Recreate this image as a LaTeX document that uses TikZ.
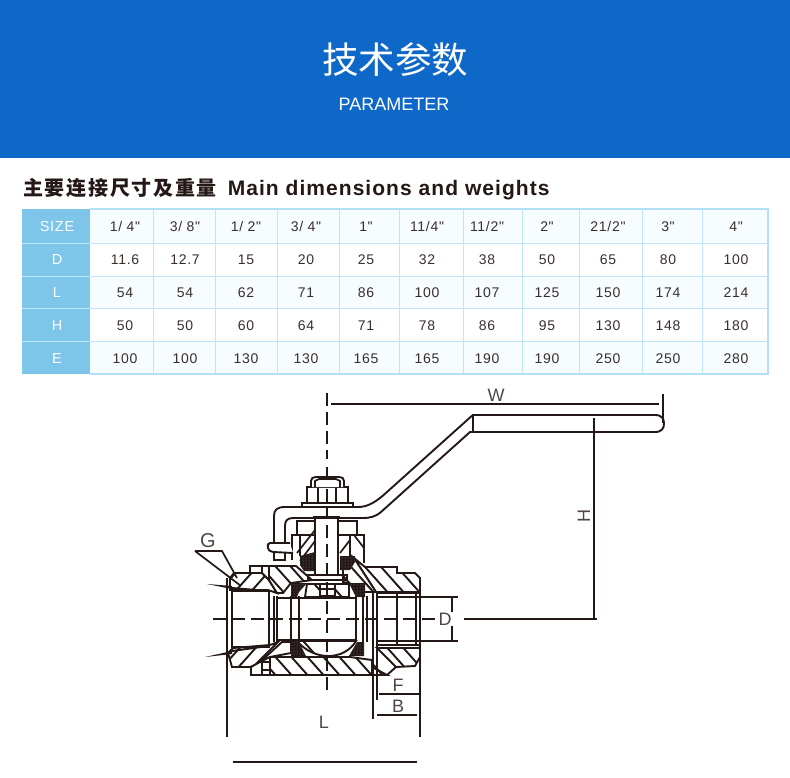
\documentclass[tikz,border=0pt]{standalone}
\usepackage{fontspec}
\usetikzlibrary{patterns}
\setmainfont{Liberation Sans}
\newfontfamily\cjk{Noto Sans CJK SC}
\newfontfamily\headcjk[LetterSpace=8.5]{Noto Sans CJK SC}
\newfontfamily\headlat[LetterSpace=5]{Liberation Sans}
\newfontfamily\cellfont[LetterSpace=5]{Liberation Sans}
\definecolor{bandblue}{RGB}{14,104,200}
\definecolor{gridblue}{RGB}{190,230,250}
\definecolor{sideblue}{RGB}{125,198,234}
\definecolor{rowtint}{RGB}{247,252,255}
\definecolor{inkdark}{RGB}{35,24,21}
\tikzset{
  cell/.style={font=\cellfont\fontsize{14}{15}\selectfont,text=inkdark!90,inner sep=0pt,text height=10pt,text depth=0pt},
  sidecell/.style={font=\cellfont\fontsize{14.5}{15}\selectfont,text=white,inner sep=0pt,text height=10.4pt,text depth=0pt},
  gridline/.style={draw=gridblue,line width=1pt},
  valveline/.style={draw=inkdark,line width=1.9pt,line join=miter},
  thinline/.style={draw=inkdark,line width=1.7pt},
  hatchline/.style={draw=inkdark,line width=1.9pt},
  axisline/.style={draw=inkdark,line width=1.7pt,dash pattern=on 13pt off 6pt},
  dimlabel/.style={font=\fontsize{18}{19}\selectfont,text=inkdark!80,inner sep=0pt}
}
% hatched region: outline, offsets at y=540, run of a stroke over 140 down
\newcommand{\hatchpoly}[3]{%
  \fill[white] #1;
  \begin{scope}
    \clip #1;
    \foreach \hx in {#2} \draw[hatchline] (\hx,540) -- ++(#3,140);
  \end{scope}
  \draw[valveline] #1;
}
% packing seat, dark with light specks
\newcommand{\seatpoly}[1]{%
  \fill[inkdark] #1;
  \fill[pattern=dots,pattern color=white!45!inkdark] #1;
}
\begin{document}
\begin{tikzpicture}[x=1pt,y=-1pt]
  \useasboundingbox (0,0) rectangle (790,777);

  % Title band
  \fill[bandblue] (0,0) rectangle (790,158);
  \node[text=white,inner sep=0pt,font=\cjk\fontsize{36.5}{38}\selectfont] (title) at (395,60) {技术参数};
  \node[text=white,inner sep=0pt,font=\fontsize{18}{19}\selectfont] (subtitle) at (394,104) {PARAMETER};

  % Heading of the table
  \node[anchor=west,inner sep=0pt,text=inkdark] (heading) at (23,189)
    {\headcjk\bfseries\fontsize{20}{22}\selectfont 主要连接尺寸及重量\hspace{11pt}\headlat\bfseries\fontsize{21}{22}\selectfont Main dimensions and weights};

  % Table background
  \fill[rowtint] (90,209) rectangle (768,243);
  \fill[rowtint] (90,276) rectangle (768,308);
  \fill[rowtint] (90,341) rectangle (768,374);
  \fill[sideblue] (22,209) rectangle (90,374);

  % Table lines
  \foreach \gy in {243,276,308,341} \draw[gridline] (22,\gy) -- (768,\gy);
  \foreach \gx in {153,215,277,339,399,463,522,579,642,702} \draw[gridline] (\gx,209) -- (\gx,374);
  \draw[gridline,line width=1.5pt,draw=gridblue!80!sideblue] (90,209) -- (768,209) -- (768,374) -- (90,374);

  % Table texts
  \foreach \cy/\sidetext/\rowname in {226/SIZE/size,259/D/d,292/L/l,325/H/h,358/E/e}
    \node[sidecell] (\rowname0) at (57,\cy) {\sidetext};
  \foreach \cx/\celltext [count=\ci] in {125/{1/ 4"},185/{3/ 8"},246/{1/ 2"},306/{3/ 4"},366/{1"},427/{11/4"},487/{11/2"},547/{2"},608/{21/2"},668/{3"},736/{4"}}
    \node[cell] (size\ci) at (\cx,226) {\celltext};
  \foreach \cx/\celltext [count=\ci] in {125/11.6,185/12.7,246/15,306/20,366/25,427/32,487/38,547/50,608/65,668/80,736/100}
    \node[cell] (d\ci) at (\cx,259) {\celltext};
  \foreach \cx/\celltext [count=\ci] in {125/54,185/54,246/62,306/71,366/86,427/100,487/107,547/125,608/150,668/174,736/214}
    \node[cell] (l\ci) at (\cx,292) {\celltext};
  \foreach \cx/\celltext [count=\ci] in {125/50,185/50,246/60,306/64,366/71,427/78,487/86,547/95,608/130,668/148,736/180}
    \node[cell] (h\ci) at (\cx,325) {\celltext};
  \foreach \cx/\celltext [count=\ci] in {125/100,185/100,246/130,306/130,366/165,427/165,487/190,547/190,608/250,668/250,736/280}
    \node[cell] (e\ci) at (\cx,358) {\celltext};

  % Upper hatched parts
  \hatchpoly{(230,590) -- (230,578) -- (234,573) -- (262,573) -- (269,580) -- (277,593) -- (268,590) -- cycle}{265,281,297}{-125}
  \hatchpoly{(250,573) -- (250,566) -- (262,566) -- (262,573) -- cycle}{}{125}
  \hatchpoly{(262,566) -- (269,566) -- (269,580) -- (262,573) -- cycle}{}{125}
  \hatchpoly{(269,566) -- (296,566) -- (312,580) -- (291,583) -- (283,593) -- (277,593) -- (269,580) -- cycle}{237,252,267}{125}
  \hatchpoly{(354,558) -- (365,567) -- (397,567) -- (397,573) -- (415,573) -- (420,578) -- (420,592) -- (376,592) -- cycle}{323,341,357,373,391}{125}
  \hatchpoly{(343,568) -- (354,558) -- (376,592) -- (365,592) -- (349,583) -- (343,582) -- cycle}{311,327}{125}

  % Lower hatched parts
  \hatchpoly{(228,653) -- (233,648) -- (270,645) -- (278,642) -- (255,665) -- (250,667) -- (232,667) -- cycle}{320,336,352}{-125}
  \hatchpoly{(282,642) -- (291,642) -- (291,653) -- (270,657) -- (260,662) -- cycle}{369}{-125}
  \hatchpoly{(251,667) -- (260,662) -- (262,662) -- (262,675) -- (251,675) -- cycle}{}{125}
  \hatchpoly{(270,662) -- (270,657) -- (305,657) -- (350,657) -- (372,660) -- (372,667) -- (387,675) -- (270,675) -- cycle}{155,171,187,203,219,235,251}{125}
  \hatchpoly{(377,648) -- (420,648) -- (420,657) -- (415,666) -- (396,667) -- cycle}{275,291,307}{125}
  \draw[valveline] (372,660) -- (372,675) -- (387,675) -- (396,667);
  \draw[valveline] (262,662) rectangle (270,675);
  \draw[thinline] (262,670) -- (270,670);
  \begin{scope}
    \clip (372,660) -- (372,675) -- (387,675) -- (396,667) -- (378,650) -- cycle;
    \foreach \hx in {262} \draw[hatchline] (\hx,540) -- ++(125,140);
  \end{scope}

  % Ball
  \hatchpoly{(297,641) -- (356,641) .. controls (345,660) and (315,662) .. (297,641) -- cycle}{181,197,213}{125}
  \hatchpoly{(307,584) -- (349,584) -- (349,597) -- (305,597) -- cycle}{275,291,330}{125}
  \fill[white] (320,584) rectangle (335,596);
  \draw[thinline] (320,584) rectangle (335,596);
  \draw[thinline] (320,589) -- (335,589);

  % Packing seats
  \seatpoly{(291,583) -- (307,583) -- (299,592) -- (297,597) -- (291,597) -- cycle}
  \seatpoly{(349,583) -- (365,583) -- (365,597) -- (356,597) -- cycle}
  \seatpoly{(291,640) -- (298,640) -- (306,656) -- (291,656) -- cycle}
  \seatpoly{(364,642) -- (357,642) -- (349,656) -- (364,656) -- cycle}

  % Bore and threads
  \draw[valveline] (232,591) rectangle (269,647);
  \draw[valveline] (277,598) -- (357,598);
  \draw[valveline] (277,640) -- (357,640);
  \draw[valveline] (377,593) -- (420,593);
  \draw[thinline] (377,645) -- (420,645);
  \draw[valveline] (377,648) -- (420,648);
  \foreach \vx in {274,277,291,299,356,363,367} \draw[thinline] (\vx,596) -- (\vx,642);
  \foreach \vx in {397,416} \draw[thinline] (\vx,593) -- (\vx,646);

  % Thin dark slivers under the hatching
  \fill[inkdark] (232,587) -- (268,590) -- (268,592) -- (232,590) -- cycle;
  \fill[inkdark] (232,650) -- (268,645) -- (268,647) -- (232,652) -- cycle;

  % Stuffing box
  \draw[valveline] (292,560) -- (292,535) -- (300,535);
  \draw[valveline] (350,535) -- (364,535) -- (364,563);
  \draw[valveline] (297,535) rectangle (315,521);
  \draw[valveline] (338,535) rectangle (357,521);
  \draw[valveline] (300,535) -- (300,556);
  \draw[valveline] (350,535) -- (350,556);
  \draw[thinline] (297,553) -- (315,530);
  \draw[thinline] (300,561) -- (315,541);
  \draw[thinline] (340,553) -- (350,540);
  \draw[thinline] (354,535) -- (364,548);
  \seatpoly{(300,556) -- (315,552) -- (315,571) -- (304,571) -- (300,565) -- cycle}
  \seatpoly{(340,556) -- (355,556) -- (355,562) -- (350,570) -- (340,570) -- cycle}

  % Stem with its flange
  \fill[white] (315,517) rectangle (338,575);
  \draw[valveline] (315,517) -- (315,575);
  \draw[valveline] (338,517) -- (338,575);
  \draw[valveline] (313,517) -- (340,517);
  \draw[valveline] (308,575) rectangle (347,580);

  % Handle
  \fill[white] (473,415) -- (655,415) .. controls (662,415) and (664,419) .. (664,423.5) .. controls (664,428) and (662,432) .. (655,432) -- (473,432) -- cycle;
  \draw[valveline] (473,415) -- (655,415) .. controls (662,415) and (664,419) .. (664,423.5) .. controls (664,428) and (662,432) .. (655,432) -- (473,432) -- cycle;
  \draw[valveline] (473,415) -- (470,417.5) -- (387,492) .. controls (376,502) and (368,507) .. (358,507) -- (285,507) .. controls (277,507) and (274,510) .. (274,516) -- (274,542);
  \draw[valveline] (473,432) -- (470,432) -- (381,512) .. controls (375,517) and (370,518) .. (362,518) -- (293,518) .. controls (287,518) and (285,521) .. (285,526) -- (285,543);

  % Stop below the handle
  \draw[valveline,fill=white] (290,543) -- (270,543) .. controls (266,543) and (267,552) .. (273,552) -- (293,553);
  \draw[valveline] (274,552) -- (274,560) -- (285,560) -- (285,553);

  % Nut
  \draw[valveline,fill=white] (302,503) rectangle (353,507);
  \draw[valveline,fill=white] (307,487) rectangle (348,503);
  \draw[thinline] (318,487) -- (318,503);
  \draw[thinline] (336,487) -- (336,503);
  \draw[valveline,fill=white] (311,487) -- (311,481) .. controls (311,478) and (313,477) .. (316,477) -- (339,477) .. controls (342,477) and (344,478) .. (344,481) -- (344,487);
  \draw[thinline] (315,487) -- (315,481) -- (319,479) -- (336,479) -- (340,481) -- (340,487);

  % Axis lines
  \draw[axisline] (327,393) -- (327,459);
  \draw[axisline] (327,467) -- (327,478);
  \draw[axisline] (327,489) -- (327,502);
  \draw[axisline] (327,508) -- (327,517);
  \draw[axisline] (327,525) -- (327,692);
  \draw[axisline] (213,619) -- (437,619);

  % Leader of G
  \draw[thinline] (195,551) -- (222,551) -- (237,578);
  \draw[thinline] (195,551) -- (241,586);
  \fill[inkdark] (207,584) -- (232,586) -- (232,589) -- cycle;
  \fill[inkdark] (205,657) -- (232,651) -- (232,654) -- cycle;

  % Extension and dimension lines
  \draw[thinline] (227,578) -- (227,737);
  \draw[thinline] (420,578) -- (420,737);
  \draw[thinline] (373,592) -- (373,719);
  \draw[thinline] (377,592) -- (377,700);
  \draw[thinline] (331,404) -- (659,404);
  \draw[thinline] (663,394) -- (663,423);
  \draw[thinline] (594,418) -- (594,618);
  \draw[thinline] (464,619) -- (597,619);
  \draw[thinline] (377,597) -- (458,597);
  \draw[thinline] (377,641) -- (458,641);
  \draw[thinline] (452,597) -- (452,641);
  \draw[thinline] (379,694) -- (420,694);
  \draw[thinline] (377,715) -- (417,715);
  \draw[line width=2.2pt,draw=inkdark] (233,762) -- (417,762);

  % Dimension labels
  \node[dimlabel] (labW) at (496,395) {W};
  \node[dimlabel,rotate=90] (labH) at (584,516) {H};
  \node[dimlabel,fill=white,inner sep=1pt] (labD) at (445,619) {D};
  \node[dimlabel] (labF) at (398,685) {F};
  \node[dimlabel] (labB) at (398,706) {B};
  \node[dimlabel] (labL) at (324,722) {L};
  \node[dimlabel,font=\fontsize{20}{21}\selectfont] (labG) at (208,541) {G};
\end{tikzpicture}
\end{document}
